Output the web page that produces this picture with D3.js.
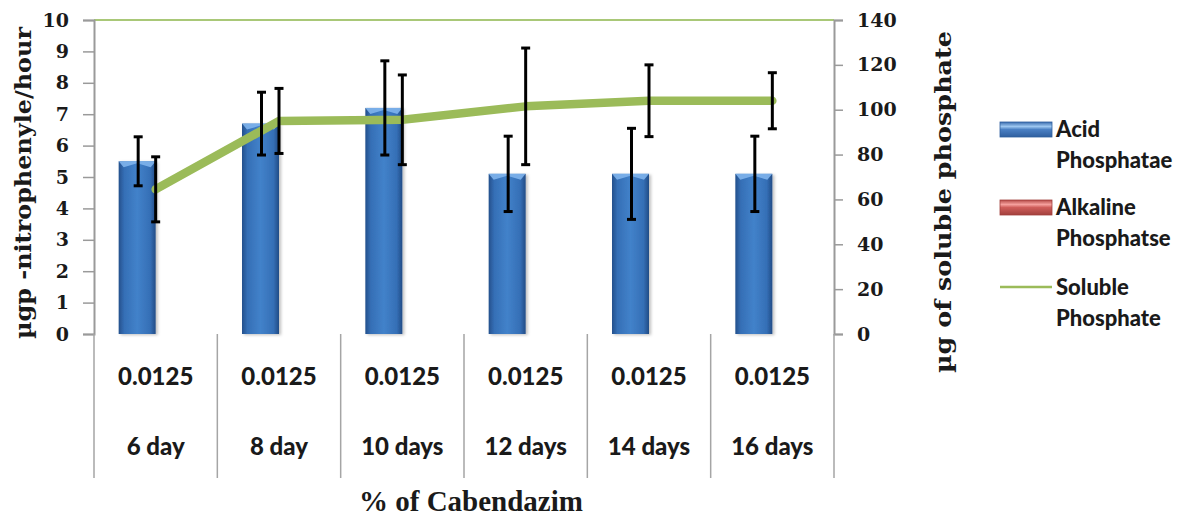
<!DOCTYPE html>
<html>
<head>
<meta charset="utf-8">
<script src="https://cdn.jsdelivr.net/npm/d3@7"></script>
<style>
  html, body { margin: 0; padding: 0; background: #fff; }
  svg { display: block; }
</style>
</head>
<body>
<div id="chart"></div>
<script>
// ---------------- data ----------------
const categories = ["6 day", "8 day", "10 days", "12 days", "14 days", "16 days"];
const concentrations = ["0.0125", "0.0125", "0.0125", "0.0125", "0.0125", "0.0125"];
const acidValues = [5.5, 6.7, 7.2, 5.1, 5.1, 5.1];
const acidErrors = [0.78, 1.0, 1.5, 1.2, 1.45, 1.2];
const alkalineValues = [0, 0, 0, 0, 0, 0];
const solubleValues = [64.5, 95, 95.5, 101.5, 104, 104];
const solubleErrors = [14.5, 14.5, 20, 26, 16, 12.5];
const leftTicks = [0, 1, 2, 3, 4, 5, 6, 7, 8, 9, 10];
const rightTicks = [0, 20, 40, 60, 80, 100, 120, 140];
const seriesNames = ["Acid Phosphatae", "Alkaline Phosphatse", "Soluble Phosphate"];
const legendLines = [["Acid", "Phosphatae"], ["Alkaline", "Phosphatse"], ["Soluble", "Phosphate"]];

// ---------------- layout ----------------
const W = 1193, H = 517;
const plot = { left: 94, right: 834, top: 20, bottom: 334 };

const svg = d3.select("#chart").append("svg").attr("width", W).attr("height", H);
const defs = svg.append("defs");

const barGrad = defs.append("linearGradient").attr("id", "barGrad").attr("x1", "0").attr("x2", "1").attr("y1", "0").attr("y2", "0");
barGrad.append("stop").attr("offset", "0%").attr("stop-color", "#24508c");
barGrad.append("stop").attr("offset", "15%").attr("stop-color", "#356fb6");
barGrad.append("stop").attr("offset", "50%").attr("stop-color", "#4282ca");
barGrad.append("stop").attr("offset", "85%").attr("stop-color", "#356fb6");
barGrad.append("stop").attr("offset", "100%").attr("stop-color", "#224c86");

const blueLeg = defs.append("linearGradient").attr("id", "blueLeg").attr("x1", "0").attr("x2", "0").attr("y1", "0").attr("y2", "1");
blueLeg.append("stop").attr("offset", "0%").attr("stop-color", "#3a6cae");
blueLeg.append("stop").attr("offset", "30%").attr("stop-color", "#9cc6f0");
blueLeg.append("stop").attr("offset", "50%").attr("stop-color", "#4a80c4");
blueLeg.append("stop").attr("offset", "100%").attr("stop-color", "#2f5f9f");

const redLeg = defs.append("linearGradient").attr("id", "redLeg").attr("x1", "0").attr("x2", "0").attr("y1", "0").attr("y2", "1");
redLeg.append("stop").attr("offset", "0%").attr("stop-color", "#b54a47");
redLeg.append("stop").attr("offset", "30%").attr("stop-color", "#f5a09d");
redLeg.append("stop").attr("offset", "50%").attr("stop-color", "#cf5d5a");
redLeg.append("stop").attr("offset", "100%").attr("stop-color", "#a2403d");

const shadow = defs.append("filter").attr("id", "shadow").attr("x", "-20%").attr("y", "-10%").attr("width", "150%").attr("height", "130%");
shadow.append("feDropShadow").attr("dx", 2).attr("dy", 1).attr("stdDeviation", 1.5).attr("flood-color", "#000").attr("flood-opacity", 0.25);

// ---------------- scales ----------------
const x0 = d3.scaleBand().domain(categories).range([plot.left, plot.right]).padding(0);
const x1 = d3.scaleBand().domain(["acid", "alkaline"]).range([x0.bandwidth() * 0.2, x0.bandwidth() * 0.8]).padding(0);
const yL = d3.scaleLinear().domain([0, 10]).range([plot.bottom, plot.top]);
const yR = d3.scaleLinear().domain([0, 140]).range([plot.bottom, plot.top]);

const axisColor = "#9a9a9a";
const textColor = "#1a1a1a";
const tickFont = "'DejaVu Serif', serif";

// top border of plot area (green)
svg.append("line")
  .attr("x1", plot.left).attr("x2", plot.right)
  .attr("y1", yL(10)).attr("y2", yL(10))
  .attr("stroke", "#a9c878").attr("stroke-width", 2);

// ---------------- left axis ----------------
const leftAxis = svg.append("g").attr("transform", `translate(${plot.left},0)`)
  .call(d3.axisLeft(yL).tickValues(leftTicks).tickSize(11).tickPadding(14).tickFormat(d3.format("d")));
leftAxis.select(".domain").attr("stroke", axisColor).attr("stroke-width", 2);
leftAxis.selectAll(".tick line").attr("stroke", axisColor).attr("stroke-width", 1.5);
leftAxis.selectAll(".tick text")
  .attr("fill", textColor)
  .style("font-family", tickFont).style("font-weight", "bold").style("font-size", "19px");

// ---------------- right axis ----------------
const rightAxis = svg.append("g").attr("transform", `translate(${plot.right},0)`)
  .call(d3.axisRight(yR).tickValues(rightTicks).tickSize(9).tickPadding(14).tickFormat(d3.format("d")));
rightAxis.select(".domain").attr("stroke", axisColor).attr("stroke-width", 2);
rightAxis.selectAll(".tick line").attr("stroke", axisColor).attr("stroke-width", 1.5);
rightAxis.selectAll(".tick text")
  .attr("fill", textColor)
  .style("font-family", tickFont).style("font-weight", "bold").style("font-size", "19px");

// ---------------- bars ----------------
const gBars = svg.append("g");
categories.forEach((c, i) => {
  const xa = x0(c) + x1("acid");
  const w = x1.bandwidth();
  const ya = yL(acidValues[i]);
  gBars.append("rect")
    .attr("x", xa).attr("y", ya)
    .attr("width", w).attr("height", yL(0) - ya)
    .attr("fill", "url(#barGrad)")
    .attr("filter", "url(#shadow)");
  // top bevel
  gBars.append("path")
    .attr("d", `M${xa},${ya} L${xa + w},${ya} L${xa + w - 5},${ya + 6} L${xa + w / 2},${ya + 2} L${xa + 5},${ya + 6} Z`)
    .attr("fill", "#7fb4ec").attr("opacity", 0.9);
  // alkaline (zero height)
  const xk = x0(c) + x1("alkaline");
  const yk = yL(alkalineValues[i]);
  gBars.append("rect")
    .attr("x", xk).attr("y", yk)
    .attr("width", w).attr("height", yL(0) - yk)
    .attr("fill", "#c0504d");
});

// ---------------- bottom axis & category dividers ----------------
svg.append("line")
  .attr("x1", plot.left - 11).attr("x2", plot.right + 9)
  .attr("y1", plot.bottom).attr("y2", plot.bottom)
  .attr("stroke", "#8a8a8a").attr("stroke-width", 2.5)
  .attr("filter", "url(#shadow)");

const dividers = categories.map(c => x0(c)).concat([plot.right]);
svg.append("g").selectAll("line").data(dividers).join("line")
  .attr("x1", d => d).attr("x2", d => d)
  .attr("y1", plot.bottom).attr("y2", 478)
  .attr("stroke", "#a5a5a5").attr("stroke-width", 1.5);

const catFont = "Lato, 'Open Sans', sans-serif";
svg.append("g").selectAll("text").data(categories).join("text")
  .attr("x", d => x0(d) + x0.bandwidth() / 2)
  .attr("y", 385)
  .attr("text-anchor", "middle")
  .attr("fill", textColor)
  .style("font-family", catFont).style("font-weight", "900").style("font-size", "24px")
  .text((d, i) => concentrations[i]);

svg.append("g").selectAll("text").data(categories).join("text")
  .attr("x", d => x0(d) + x0.bandwidth() / 2)
  .attr("y", 455)
  .attr("text-anchor", "middle")
  .attr("fill", textColor)
  .style("font-family", catFont).style("font-weight", "900").style("font-size", "24px")
  .text(d => d);

// ---------------- soluble phosphate line ----------------
const cx = c => x0(c) + x0.bandwidth() / 2;
const lineGen = d3.line().x((d, i) => cx(categories[i])).y(d => yR(d));
svg.append("path")
  .datum(solubleValues)
  .attr("d", lineGen)
  .attr("fill", "none")
  .attr("stroke", "#9bbb59")
  .attr("stroke-width", 8.5)
  .attr("stroke-linecap", "round")
  .attr("stroke-linejoin", "round");

// ---------------- error bars ----------------
function errorBar(g, x, yTop, yBot) {
  const cap = 4.5;
  g.append("line").attr("x1", x).attr("x2", x).attr("y1", yTop).attr("y2", yBot)
    .attr("stroke", "#000").attr("stroke-width", 3);
  g.append("line").attr("x1", x - cap).attr("x2", x + cap).attr("y1", yTop).attr("y2", yTop)
    .attr("stroke", "#000").attr("stroke-width", 3);
  g.append("line").attr("x1", x - cap).attr("x2", x + cap).attr("y1", yBot).attr("y2", yBot)
    .attr("stroke", "#000").attr("stroke-width", 3);
}
const gErr = svg.append("g");
categories.forEach((c, i) => {
  const xa = x0(c) + x1("acid") + x1.bandwidth() / 2 + 1;
  errorBar(gErr, xa, yL(acidValues[i] + acidErrors[i]), yL(acidValues[i] - acidErrors[i]));
  errorBar(gErr, cx(c), yR(solubleValues[i] + solubleErrors[i]), yR(solubleValues[i] - solubleErrors[i]));
});

// ---------------- axis titles ----------------
svg.append("text")
  .attr("transform", "translate(31,183) rotate(-90)")
  .attr("text-anchor", "middle")
  .attr("fill", textColor)
  .attr("textLength", 312).attr("lengthAdjust", "spacingAndGlyphs")
  .style("font-family", "'DejaVu Serif', serif").style("font-weight", "bold").style("font-size", "23px")
  .text("µgp -nitrophenyle/hour");

svg.append("text")
  .attr("transform", "translate(951,202) rotate(-90)")
  .attr("text-anchor", "middle")
  .attr("fill", textColor)
  .attr("textLength", 342).attr("lengthAdjust", "spacingAndGlyphs")
  .style("font-family", "'DejaVu Serif', serif").style("font-weight", "bold").style("font-size", "23px")
  .text("µg of soluble phosphate");

svg.append("text")
  .attr("x", 471).attr("y", 511)
  .attr("text-anchor", "middle")
  .attr("fill", textColor)
  .style("font-family", "'Liberation Serif', 'Times New Roman', serif").style("font-weight", "bold").style("font-size", "29px")
  .text("% of Cabendazim");

// ---------------- legend ----------------
const legend = svg.append("g");
const legTop = [122, 200, 280];
const legFont = "Lato, 'Open Sans', sans-serif";
seriesNames.forEach((name, i) => {
  const y = legTop[i];
  if (i === 0 || i === 1) {
    legend.append("rect")
      .attr("x", 1000).attr("y", y).attr("width", 52).attr("height", 15)
      .attr("fill", i === 0 ? "url(#blueLeg)" : "url(#redLeg)")
      .attr("stroke", i === 0 ? "#2f5f9f" : "#a2403d").attr("stroke-width", 0.8);
  } else {
    legend.append("line")
      .attr("x1", 1000).attr("x2", 1052).attr("y1", y + 7).attr("y2", y + 7)
      .attr("stroke", "#9bbb59").attr("stroke-width", 2.5);
  }
  legendLines[i].forEach((t, j) => {
    legend.append("text")
      .attr("x", 1056).attr("y", y + 15 + j * 31)
      .attr("fill", textColor)
      .style("font-family", legFont).style("font-weight", "900").style("font-size", "22px")
      .text(t);
  });
});
</script>
</body>
</html>
